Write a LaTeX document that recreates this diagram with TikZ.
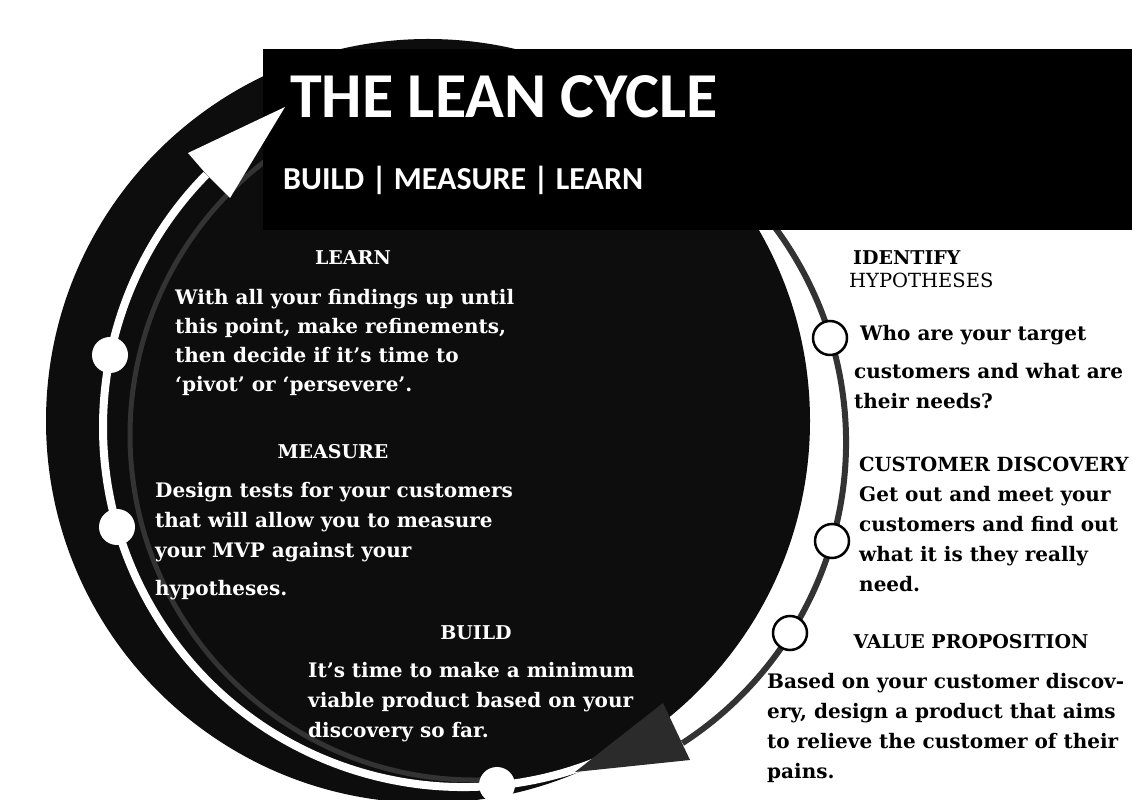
\documentclass[tikz,border=0pt]{standalone}
\usepackage{fontspec}
\setmainfont{DejaVu Serif}
\newfontfamily\titlefont{Carlito}
\definecolor{discblack}{HTML}{0D0D0D}
\definecolor{ringgray}{HTML}{333333}
\definecolor{headgray}{HTML}{2B2B2B}
\tikzset{bodytxt/.style = {font = \bfseries\fontsize{20}{30}\selectfont,
                           align = left, inner sep = 0pt, anchor = base west},
         whitetxt/.style = {bodytxt, text = white},
         blacktxt/.style = {bodytxt, text = black},
         heading/.style = {font = \bfseries\fontsize{19}{23}\selectfont,
                           inner sep = 0pt, anchor = base, text = #1},
         heading/.default = white,
         dot/.style = {circle, fill = white, minimum size = 36pt, inner sep = 0pt},
         ringdot/.style = {circle, fill = white, draw = black, line width = 2.5pt,
                           minimum size = 34pt, inner sep = 0pt}
        }

\begin{document}
\begin{tikzpicture}[x=1pt, y=1pt]
  \useasboundingbox (0,0) rectangle (1132,800);
  \fill[white] (0,0) rectangle (1132,800);
  \coordinate (disc) at (428,379);
  \coordinate (wc) at (463,373);
  \coordinate (ic) at (475,365);
  \coordinate (gc) at (487,358);

  \fill[discblack] (disc) circle (382);
  \draw[white, line width=8pt] ([shift={(-60:360)}]wc)
    arc[start angle=-60, end angle=-224.5, radius=360];
  \draw[ringgray, line width=5pt] ([shift={(-85:345)}]ic)
    arc[start angle=-85, end angle=-235, radius=345];
  \draw[ringgray, line width=6pt] ([shift={(60:359)}]gc)
    arc[start angle=60, end angle=-57, radius=359];
  \fill[headgray] (575,28) -- (663,97) -- (690,40) -- cycle;

  \node[dot] (learnpt) at (110,445) {};
  \node[dot] (measurept) at (117,273) {};
  \node[dot] (buildpt) at (497,15) {};
  \node[ringdot] (identpt) at (830,462) {};
  \node[ringdot] (discopt) at (832,259) {};
  \node[ringdot] (valuept) at (790,167) {};

  \fill[black] (263,570) rectangle (1132,751);
  \fill[white] (285,693) -- (188,647) -- (207,625) -- (230,602) -- cycle;
  \node[text=white, inner sep=0pt, anchor=base west,
        font=\titlefont\bfseries\fontsize{64}{64}\selectfont] (title) at (290,682) {THE LEAN CYCLE};
  \node[text=white, inner sep=0pt, anchor=base west,
        font=\titlefont\bfseries\fontsize{32}{32}\selectfont] (subtitle) at (283,610) {BUILD | MEASURE | LEARN};

  \node[heading] (learnhd) at (353,535) {LEARN};
  \node[whitetxt, font=\bfseries\fontsize{20}{29}\selectfont] (learntxt) at (175,408)
    {With all your findings up until\\ this point, make refinements,\\
     then decide if it’s time to\\ ‘pivot’ or ‘persevere’.};
  \node[heading] (measurehd) at (333,341) {MEASURE};
  \node[whitetxt] (measuretxt) at (155,204) {Design tests for your customers\\
    that will allow you to measure\\ your MVP against your\\[8pt] hypotheses.};
  \node[heading] (buildhd) at (476,160) {BUILD};
  \node[whitetxt] (buildtxt) at (308,62) {It’s time to make a minimum\\
    viable product based on your\\ discovery so far.};

  \node[heading=black, anchor=base west] (identhd) at (853,535) {IDENTIFY};
  \node[text=black, inner sep=0pt, anchor=base west,
        font=\fontsize{19.5}{22}\selectfont] (hypohd) at (849,512) {HYPOTHESES};
  \node[blacktxt] (identtxt) at (854,391) {\hspace*{6pt}Who are your target\\[8pt]
    customers and what are\\ their needs?};
  \node[heading=black, anchor=base west, font=\bfseries\fontsize{19.5}{23}\selectfont]
    (discohd) at (859,328) {CUSTOMER DISCOVERY};
  \node[blacktxt] (discotxt) at (859,208) {Get out and meet your\\
    customers and find out\\ what it is they really\\ need.};
  \node[heading=black] (valuehd) at (971,151) {VALUE PROPOSITION};
  \node[blacktxt] (valuetxt) at (767,21) {Based on your customer discov-\\
    ery, design a product that aims\\ to relieve the customer of their\\ pains.};
\end{tikzpicture}
\end{document}
